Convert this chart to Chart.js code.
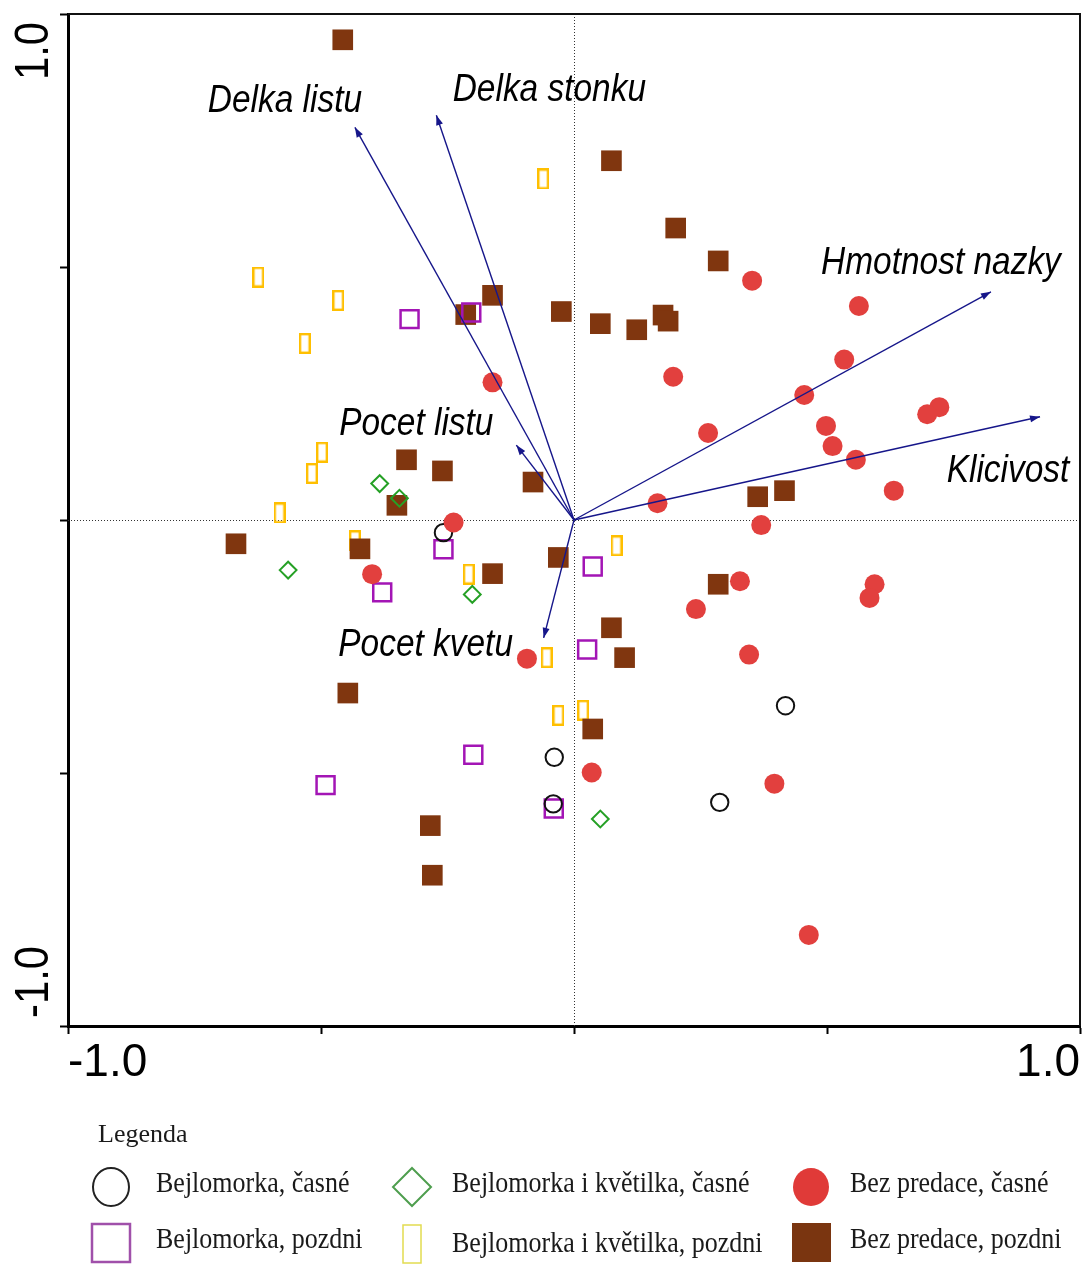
<!DOCTYPE html>
<html>
<head>
<meta charset="utf-8">
<script src="https://cdn.jsdelivr.net/npm/chart.js@4.4.1/dist/chart.umd.min.js"></script>
<style>
  html, body { margin: 0; padding: 0; background: #fff; }
  canvas { display: block; }
</style>
</head>
<body>
<canvas id="ordination" width="1082" height="1266"></canvas>
<script>
// legend names, in legend order
const seriesNames = [
    'Bejlomorka, časné', 'Bejlomorka, pozdni',
    'Bejlomorka i květilka, časné', 'Bejlomorka i květilka, pozdni',
    'Bez predace, časné', 'Bez predace, pozdni'
];

// sample scores (axis 1 = x, axis 2 = y)
const bejCasneX = [-0.258, 0.418, -0.039, 0.288, -0.041];
const bejCasneY = [-0.025, -0.367, -0.469, -0.558, -0.561];

const bejPozdniX = [-0.325, -0.203, -0.379, -0.258, -0.199, -0.491, 0.037, 0.026, -0.040];
const bejPozdniY = [0.397, 0.410, -0.143, -0.058, -0.464, -0.524, -0.092, -0.256, -0.570];

const kvetCasneX = [-0.384, -0.345, -0.565, -0.201, 0.052];
const kvetCasneY = [0.072, 0.043, -0.099, -0.147, -0.591];

const kvetPozdniX = [-0.624, -0.466, -0.532, -0.498, -0.518, -0.582, -0.061, -0.433, -0.208, 0.084, -0.054, -0.031, 0.018];
const kvetPozdniY = [0.480, 0.434, 0.349, 0.134, 0.092, 0.014, 0.674, -0.041, -0.107, -0.051, -0.272, -0.386, -0.376];

const bezCasneX = [-0.161, -0.238, 0.352, 0.563, 0.534, 0.196, 0.455, 0.722, 0.698, 0.265, 0.498, 0.511, 0.557,
    0.632, 0.165, 0.370, -0.399, -0.093, 0.328, 0.241, 0.594, 0.584, 0.346, 0.035, 0.396, 0.464];
const bezCasneY = [0.272, -0.005, 0.473, 0.423, 0.317, 0.283, 0.247, 0.223, 0.209, 0.172, 0.186, 0.146, 0.119,
    0.058, 0.033, -0.010, -0.107, -0.274, -0.121, -0.176, -0.127, -0.154, -0.266, -0.499, -0.521, -0.820];

const bezPozdniX = [-0.457, -0.214, -0.161, -0.331, -0.260, -0.081, -0.350, 0.074, 0.201, 0.285, -0.025, 0.052, 0.124, 0.176,
    0.186, 0.363, 0.416, -0.668, -0.423, -0.161, -0.447, -0.284, -0.280, -0.031, 0.285, 0.074, 0.100, 0.037];
const bezPozdniY = [0.949, 0.406, 0.444, 0.119, 0.097, 0.075, 0.029, 0.710, 0.577, 0.512, 0.412, 0.388, 0.376, 0.405,
    0.393, 0.046, 0.058, -0.047, -0.057, -0.106, -0.342, -0.604, -0.702, -0.074, -0.127, -0.213, -0.272, -0.413];

// environmental variable arrows
const arrowNames = ['Delka listu', 'Delka stonku', 'Pocet listu', 'Pocet kvetu', 'Hmotnost nazky', 'Klicivost'];
const arrowX = [-0.433, -0.272, -0.114, -0.060, 0.824, 0.921];
const arrowY = [0.776, 0.800, 0.148, -0.233, 0.451, 0.204];

// where each arrow label sits relative to its tip (px: centre x, baseline y)
const labelOffset = [[-70, -15], [113, -14], [-100, -10], [-118, 18], [-50, -18], [-32, 65]];

const ARROW = '#16168a';
const SANS = '"Liberation Sans", Arial, sans-serif';
const SERIF = '"Liberation Serif", "Times New Roman", serif';

const toPoints = (xs, ys) => xs.map((x, i) => ({ x: x, y: ys[i] }));

// narrow yellow rectangle marker
function makeBarMarker(w, h, lw, color) {
    const c = document.createElement('canvas');
    c.width = w;
    c.height = h;
    const g = c.getContext('2d');
    g.strokeStyle = color;
    g.lineWidth = lw;
    g.strokeRect(lw / 2, lw / 2, w - lw, h - lw);
    return c;
}
const yellowBar = makeBarMarker(12, 21, 2.4, '#ffbf00');

const arrowSets = arrowNames.map((name, i) => ({
    label: name,
    data: [{ x: 0, y: 0 }, { x: arrowX[i], y: arrowY[i] }],
    showLine: true,
    borderColor: ARROW,
    borderWidth: 1.4,
    pointRadius: 0
}));

const pointSets = [
    { label: seriesNames[4], data: toPoints(bezCasneX, bezCasneY), pointStyle: 'circle', pointRadius: 10,
      backgroundColor: '#e2403e', borderWidth: 0 },
    { label: seriesNames[0], data: toPoints(bejCasneX, bejCasneY), pointStyle: 'circle', pointRadius: 8.7,
      backgroundColor: 'rgba(0,0,0,0)', borderColor: '#111', borderWidth: 2 },
    { label: seriesNames[2], data: toPoints(kvetCasneX, kvetCasneY), pointStyle: 'rectRot', pointRadius: 8.4,
      backgroundColor: 'rgba(0,0,0,0)', borderColor: '#25a025', borderWidth: 2 },
    { label: seriesNames[1], data: toPoints(bejPozdniX, bejPozdniY), pointStyle: 'rect', pointRadius: 12.7,
      backgroundColor: 'rgba(0,0,0,0)', borderColor: '#a315b5', borderWidth: 2.5 },
    { label: seriesNames[5], data: toPoints(bezPozdniX, bezPozdniY), pointStyle: 'rect', pointRadius: 14.6,
      backgroundColor: '#80360f', borderWidth: 0 },
    { label: seriesNames[3], data: toPoints(kvetPozdniX, kvetPozdniY), pointStyle: yellowBar, pointRadius: 10,
      backgroundColor: '#ffbf00', borderWidth: 0 }
];

const ordinationPlugin = {
    id: 'ordination',
    beforeDatasetsDraw(chart) {
        const { ctx, chartArea: a, scales: { x, y } } = chart;
        const x0 = x.getPixelForValue(0), y0 = y.getPixelForValue(0);
        ctx.save();
        ctx.strokeStyle = '#333';
        ctx.lineWidth = 1;
        ctx.setLineDash([1, 2]);
        ctx.beginPath();
        ctx.moveTo(x0 + 0.5, a.top);
        ctx.lineTo(x0 + 0.5, a.bottom);
        ctx.moveTo(a.left, y0 + 0.5);
        ctx.lineTo(a.right, y0 + 0.5);
        ctx.stroke();
        ctx.restore();
    },
    afterDatasetsDraw(chart) {
        const { ctx, scales: { x, y } } = chart;
        const ox = x.getPixelForValue(0), oy = y.getPixelForValue(0);
        ctx.save();
        arrowNames.forEach((name, i) => {
            const tx = x.getPixelForValue(arrowX[i]);
            const ty = y.getPixelForValue(arrowY[i]);
            const ang = Math.atan2(ty - oy, tx - ox);
            ctx.fillStyle = ARROW;
            ctx.beginPath();
            ctx.moveTo(tx, ty);
            ctx.lineTo(tx - 10 * Math.cos(ang) + 3.5 * Math.sin(ang), ty - 10 * Math.sin(ang) - 3.5 * Math.cos(ang));
            ctx.lineTo(tx - 10 * Math.cos(ang) - 3.5 * Math.sin(ang), ty - 10 * Math.sin(ang) + 3.5 * Math.cos(ang));
            ctx.closePath();
            ctx.fill();

            ctx.save();
            ctx.translate(tx + labelOffset[i][0], ty + labelOffset[i][1]);
            ctx.scale(0.88, 1);
            ctx.font = 'italic 38px ' + SANS;
            ctx.fillStyle = '#000';
            ctx.textAlign = 'center';
            ctx.textBaseline = 'alphabetic';
            ctx.fillText(name, 0, 0);
            ctx.restore();
        });
        ctx.restore();
    },
    afterDraw(chart) {
        const { ctx, chartArea: a, scales: { y } } = chart;
        ctx.save();
        // top and right frame
        ctx.strokeStyle = '#111';
        ctx.lineWidth = 2;
        ctx.beginPath();
        ctx.moveTo(a.left, a.top);
        ctx.lineTo(a.right, a.top);
        ctx.lineTo(a.right, a.bottom);
        ctx.stroke();

        // rotated y tick labels at the ends of the axis
        ctx.fillStyle = '#000';
        ctx.font = '48px ' + SANS;
        ctx.textBaseline = 'alphabetic';
        [[y.max, 'right', 8], [y.min, 'left', -8]].forEach(([v, align, shift]) => {
            ctx.save();
            ctx.translate(48, y.getPixelForValue(v) + shift);
            ctx.rotate(-Math.PI / 2);
            ctx.scale(0.87, 1);
            ctx.textAlign = align;
            ctx.fillText(v.toFixed(1), 0, 0);
            ctx.restore();
        });

        // legend block
        ctx.fillStyle = '#1a1a1a';
        ctx.font = '26px ' + SERIF;
        ctx.textAlign = 'left';
        ctx.fillText('Legenda', 98, 1142);

        const cols = [[111, 156], [412, 452], [811, 850]];
        const rows = [1187, 1243];
        const base = [1192, 1248];
        const mark = [
            (cx, cy) => { ctx.strokeStyle = '#222'; ctx.lineWidth = 2; ctx.beginPath(); ctx.ellipse(cx, cy, 18, 19, 0, 0, Math.PI * 2); ctx.stroke(); },
            (cx, cy) => { ctx.strokeStyle = '#a050aa'; ctx.lineWidth = 2.5; ctx.strokeRect(cx - 19, cy - 19, 38, 38); },
            (cx, cy) => { ctx.strokeStyle = '#4e9e4e'; ctx.lineWidth = 2; ctx.beginPath(); ctx.moveTo(cx, cy - 19); ctx.lineTo(cx + 19, cy); ctx.lineTo(cx, cy + 19); ctx.lineTo(cx - 19, cy); ctx.closePath(); ctx.stroke(); },
            (cx, cy) => { ctx.strokeStyle = '#e2dc50'; ctx.lineWidth = 1.5; ctx.strokeRect(cx - 9, cy - 18, 18, 38); },
            (cx, cy) => { ctx.fillStyle = '#e03a38'; ctx.beginPath(); ctx.ellipse(cx, cy, 18, 19, 0, 0, Math.PI * 2); ctx.fill(); },
            (cx, cy) => { ctx.fillStyle = '#7a3510'; ctx.fillRect(cx - 19, cy - 20, 39, 39); }
        ];
        seriesNames.forEach((name, i) => {
            const c = Math.floor(i / 2), r = i % 2;
            mark[i](cols[c][0], rows[r]);
            ctx.save();
            ctx.fillStyle = '#1a1a1a';
            ctx.translate(cols[c][1], base[r] + (i === 3 ? 4 : 0));
            ctx.scale(1, 1.12);
            ctx.fillText(name, 0, 0);
            ctx.restore();
        });
        ctx.restore();
    }
};

new Chart(document.getElementById('ordination').getContext('2d'), {
    type: 'scatter',
    data: { datasets: arrowSets.concat(pointSets) },
    options: {
        responsive: false,
        animation: false,
        devicePixelRatio: 1,
        layout: { autoPadding: false, padding: { top: 14, right: 2, bottom: 184, left: 0 } },
        plugins: { legend: { display: false }, tooltip: { enabled: false } },
        scales: {
            x: {
                type: 'linear', min: -1, max: 1,
                ticks: {
                    stepSize: 0.5, align: 'inner', padding: 2, maxRotation: 0, autoSkip: false,
                    color: '#000', font: { family: SANS, size: 46 },
                    callback: v => (v === -1 || v === 1) ? v.toFixed(1) : ''
                },
                grid: { drawOnChartArea: false, tickLength: 8, tickWidth: 2, tickColor: '#000' },
                border: { color: '#000', width: 3 },
                afterFit: s => { s.height = 56; s.paddingLeft = 0; s.paddingRight = 0; }
            },
            y: {
                type: 'linear', min: -1, max: 1,
                ticks: { stepSize: 0.5, display: false },
                grid: { drawOnChartArea: false, tickLength: 8, tickWidth: 2, tickColor: '#000' },
                border: { color: '#000', width: 3 },
                afterFit: s => { s.width = 68; s.paddingTop = 0; s.paddingBottom = 0; }
            }
        }
    },
    plugins: [ordinationPlugin]
});
</script>
</body>
</html>
